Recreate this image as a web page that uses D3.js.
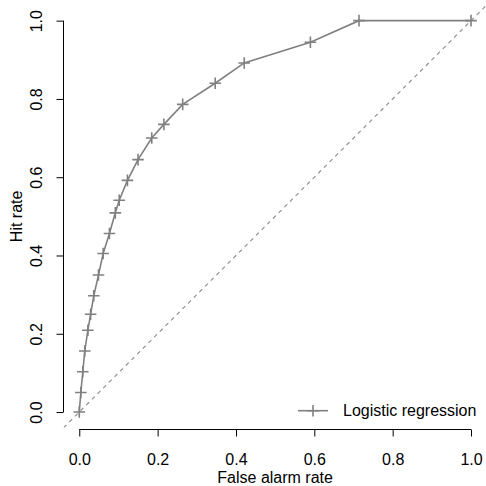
<!DOCTYPE html>
<html>
<head>
<meta charset="utf-8">
<script src="https://cdn.jsdelivr.net/npm/d3@7"></script>
<style>
  html, body { margin: 0; padding: 0; background: #fff; }
  svg { display: block; }
  text { font-family: "Liberation Sans", Arial, Helvetica, sans-serif; }
</style>
</head>
<body>
<script>
// Data: false alarm rate (x) and hit rate (y)
const falseAlarm = [0.000, 0.004, 0.009, 0.014, 0.022, 0.029, 0.037, 0.049, 0.061, 0.077, 0.092, 0.102, 0.123, 0.150, 0.185, 0.216, 0.264, 0.347, 0.421, 0.590, 0.714, 1.000];
const hitRate    = [0.000, 0.050, 0.103, 0.156, 0.209, 0.250, 0.297, 0.350, 0.405, 0.456, 0.509, 0.541, 0.592, 0.645, 0.700, 0.735, 0.786, 0.840, 0.892, 0.945, 1.000, 1.000];
const xTicks = [0, 0.2, 0.4, 0.6, 0.8, 1.0];
const yTicks = [0, 0.2, 0.4, 0.6, 0.8, 1.0];
const seriesName = "Logistic regression";
const xLabel = "False alarm rate";
const yLabel = "Hit rate";

const W = 486, H = 486;
const fs = 16;
const svg = d3.select("body").append("svg").attr("width", W).attr("height", H);

// Plot region with R-style 4% extension
const x = d3.scaleLinear().domain([-0.04, 1.04]).range([63.6, 486.7]);
const y = d3.scaleLinear().domain([-0.04, 1.04]).range([427.7, 5]);

svg.append("defs").append("clipPath").attr("id", "clip")
  .append("rect").attr("x", x(-0.04)).attr("y", y(1.04))
  .attr("width", x(1.04) - x(-0.04)).attr("height", y(-0.04) - y(1.04));

// Diagonal reference line
svg.append("line")
  .attr("clip-path", "url(#clip)")
  .attr("x1", x(-0.04)).attr("y1", y(-0.04))
  .attr("x2", x(1.04)).attr("y2", y(1.04))
  .attr("stroke", "#8a8a8a").attr("stroke-width", 1.1)
  .attr("stroke-dasharray", "4,4");

// Axes
const xAxisY = 429.5;
const yAxisX = 63.5;
const xAxis = d3.axisBottom(x).tickValues(xTicks).tickFormat(d3.format(".1f")).tickSize(7).tickPadding(0);
const gx = svg.append("g").attr("transform", `translate(0,${xAxisY})`).call(xAxis);
gx.select(".domain").remove();
gx.append("line").attr("x1", x(0)).attr("x2", x(1)).attr("stroke", "#000");
gx.selectAll(".tick line").attr("stroke", "#000");
gx.selectAll(".tick text").attr("font-size", fs).attr("fill", "#000")
  .attr("font-family", "Liberation Sans, Arial, sans-serif")
  .attr("dy", null).attr("y", 35.5);

const yAxis = d3.axisLeft(y).tickValues(yTicks).tickFormat(d3.format(".1f")).tickSize(7).tickPadding(0);
const gy = svg.append("g").attr("transform", `translate(${yAxisX},0)`).call(yAxis);
gy.select(".domain").remove();
gy.append("line").attr("y1", y(0)).attr("y2", y(1)).attr("stroke", "#000");
gy.selectAll(".tick line").attr("stroke", "#000");
gy.selectAll(".tick text").attr("font-size", fs).attr("fill", "#000")
  .attr("font-family", "Liberation Sans, Arial, sans-serif")
  .attr("x", null).attr("dy", null)
  .attr("text-anchor", "middle")
  .attr("transform", "translate(-21.5,0) rotate(-90)");

// Axis titles
svg.append("text").attr("x", x(0.5)).attr("y", 483)
  .attr("text-anchor", "middle").attr("font-size", fs).text(xLabel);
svg.append("text")
  .attr("transform", `translate(22,${y(0.5)}) rotate(-90)`)
  .attr("text-anchor", "middle").attr("font-size", fs).text(yLabel);

// Curve
const pts = falseAlarm.map((d, i) => [d, hitRate[i]]);
const lineGen = d3.line().x(d => x(d[0])).y(d => y(d[1]));
const col = "#808080";
svg.append("path").datum(pts).attr("d", lineGen)
  .attr("fill", "none").attr("stroke", col).attr("stroke-width", 1.6);

const hs = 5.8;
function drawPlus(g, cx, cy) {
  g.append("path")
    .attr("d", `M${cx - hs},${cy}H${cx + hs}M${cx},${cy - hs}V${cy + hs}`)
    .attr("stroke", col).attr("stroke-width", 1.6).attr("fill", "none");
}
const gm = svg.append("g");
pts.forEach(p => drawPlus(gm, x(p[0]), y(p[1])));

// Legend
const ly = 410.7;
const lg = svg.append("g");
lg.append("line").attr("x1", 298).attr("x2", 328).attr("y1", ly).attr("y2", ly)
  .attr("stroke", col).attr("stroke-width", 1.6);
drawPlus(lg, 313, ly);
lg.append("text").attr("x", 343).attr("y", ly + 5.7).attr("font-size", fs).text(seriesName);
</script>
</body>
</html>
